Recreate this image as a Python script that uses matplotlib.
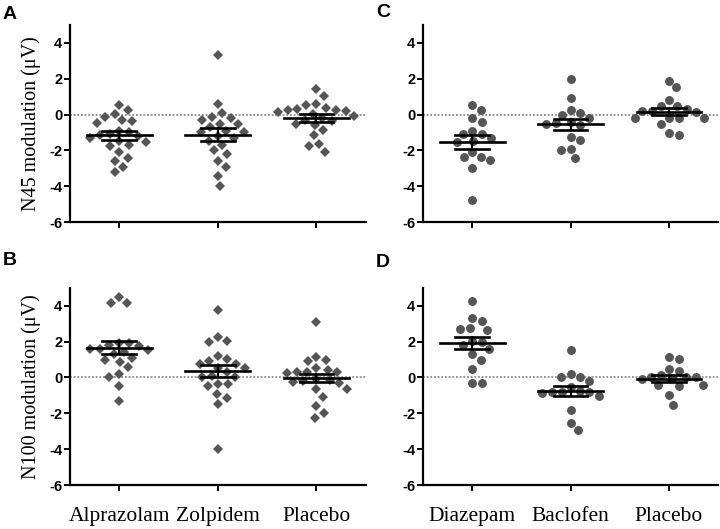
# N45 / N100 modulation column scatter (mean +/- SEM)

import numpy as np
import matplotlib
matplotlib.use('Agg')
import matplotlib.pyplot as plt

plt.rcParams['axes.unicode_minus'] = False

groups_ab = ['Alprazolam', 'Zolpidem', 'Placebo']
groups_cd = ['Diazepam', 'Baclofen', 'Placebo']

# Panel A: N45, GABA-A drugs
n45_alprazolam = [0.55, 0.05, 0.25, -0.3, -0.45, -0.15, -0.35, -0.9, -1.1, -1.15, -1.2,
                  -1.3, -1.5, -1.55, -1.7, -1.75, -2.1, -2.4, -2.6, -2.9, -3.2, -1.0]
n45_zolpidem = [3.33, 0.58, 0.06, -0.13, -0.19, -0.28, -0.5, -0.55, -0.7, -0.95, -0.92,
                -1.0, -1.2, -1.3, -1.5, -1.7, -2.0, -2.2, -2.6, -2.9, -3.45, -4.0]
n45_placebo_a = [1.4, 1.03, 0.58, 0.55, 0.24, 0.28, 0.22, 0.39, 0.15, 0.05, 0.3, -0.1,
                 -0.22, -0.3, -0.35, -0.5, -0.6, -0.88, -1.16, -1.66, -1.78, -2.09]

# Panel B: N100, GABA-A drugs
n100_alprazolam = [4.15, 4.15, 4.5, 1.9, 1.9, 1.6, 1.55, 1.6, 1.4, 1.3, 1.0, 1.1, 0.84,
                   0.56, 0.17, 0.05, -0.5, -1.3, 1.75, 1.8]
n100_zolpidem = [3.78, 2.28, 2.04, 1.98, 1.2, 1.05, 0.92, 0.73, 0.54, 0.75, 0.3, 0.1,
                 0.0, 0.05, -0.34, -0.39, -0.49, -0.9, -1.14, -1.46, -3.98, 0.55]
n100_placebo_a = [3.1, 1.16, 0.9, 0.95, 0.5, 0.4, 0.3, 0.28, 0.25, 0.3, -0.1, -0.3,
                  -0.2, -0.25, -0.15, -0.67, -0.67, -1.1, -1.6, -1.98, -2.25]

# Panel C: N45, diazepam / baclofen
n45_diazepam = [0.52, 0.28, -0.22, -0.41, -0.92, -1.07, -1.07, -1.3, -1.48, -1.53,
                -2.09, -2.37, -2.37, -2.56, -2.99, -4.77]
n45_baclofen = [1.96, 0.9, 0.24, 0.09, 0.0, -0.22, -0.41, -0.47, -0.5, -0.6, -1.25,
                -1.4, -1.9, -1.96, -2.41]
n45_placebo_c = [1.89, 1.51, 0.8, 0.47, 0.47, 0.19, 0.15, 0.19, 0.3, -0.22, -0.22,
                 -0.17, -0.22, -0.5, -1.16, -1.03]

# Panel D: N100, diazepam / baclofen
n100_diazepam = [4.28, 3.29, 3.12, 2.69, 2.75, 2.64, 2.04, 2.0, 1.8, 1.6, 1.29, 1.0,
                 0.49, -0.3, -0.3]
n100_baclofen = [1.53, 0.22, 0.04, 0.04, -0.2, -0.52, -0.77, -0.8, -0.8, -0.82, -0.85,
                 -1.05, -1.79, -2.54, -2.92]
n100_placebo_c = [1.16, 1.05, 0.49, 0.36, 0.04, -0.07, 0.0, -0.05, 0.0, 0.13, -0.45,
                  -0.4, -0.4, -1.0, -1.51]

# mean and SEM
means_a = [-1.16, -1.12, -0.19]
sems_a = [0.24, 0.37, 0.2]
means_b = [1.66, 0.36, -0.04]
sems_b = [0.37, 0.32, 0.23]
means_c = [-1.53, -0.54, 0.15]
sems_c = [0.37, 0.31, 0.19]
means_d = [1.94, -0.78, -0.06]
sems_d = [0.34, 0.28, 0.2]

PX_X = 98.5    # pixels per category
PX_Y = 17.83   # pixels per microvolt


def swarm_offsets(values, min_dist=10.0):
    """Simple beeswarm: place each point at the smallest free x offset."""
    ys = np.asarray(values) * PX_Y
    order = np.argsort(-ys)
    placed = []
    offsets = np.zeros(len(ys))
    for i in order:
        y = ys[i]
        blocked = []
        for xj, yj in placed:
            dy = abs(y - yj)
            if dy < min_dist:
                half = np.sqrt(min_dist ** 2 - dy ** 2)
                blocked.append((xj - half, xj + half))
        cands = [0.0] + [b for iv in blocked for b in iv]
        cands = sorted(cands, key=lambda c: (abs(c), -c))
        for c in cands:
            if all(not (lo + 1e-6 < c < hi - 1e-6) for lo, hi in blocked):
                offsets[i] = c
                break
        placed.append((offsets[i], y))
    return offsets / PX_X


def draw_panel(ax, data, means, sems, marker, ms, ylabel, xlabels):
    for k, vals in enumerate(data):
        xs = k + swarm_offsets(vals)
        ax.plot(xs, vals, linestyle='none', marker=marker, ms=ms,
                color='#555555', markeredgewidth=0, zorder=2)
        m, s = means[k], sems[k]
        ax.plot([k - 0.33, k + 0.33], [m, m], color='black', lw=1.9, zorder=3)
        ax.plot([k, k], [m - s, m + s], color='black', lw=1.6, zorder=3)
        ax.plot([k - 0.17, k + 0.17], [m + s, m + s], color='black', lw=1.9, zorder=3)
        ax.plot([k - 0.17, k + 0.17], [m - s, m - s], color='black', lw=1.9, zorder=3)

    ax.axhline(0, color='#777777', linestyle=(0, (1.2, 1.2)), lw=1.1, zorder=1)
    ax.set_xlim(-0.5, 2.5)
    ax.set_ylim(-6, 5)
    ax.set_yticks([-6, -4, -2, 0, 2, 4])
    ax.set_xticks([0, 1, 2])
    for side in ['top', 'right']:
        ax.spines[side].set_visible(False)
    for side in ['left', 'bottom']:
        ax.spines[side].set_linewidth(1.6)
    ax.tick_params(direction='out', length=4, width=1.4, pad=1.5)
    for lab in ax.get_yticklabels():
        lab.set_fontfamily('Liberation Sans')
        lab.set_fontweight('bold')
        lab.set_fontsize(10.5)
    if xlabels:
        ax.set_xticklabels(xlabels, fontfamily='Liberation Serif', fontsize=15.5)
        ax.tick_params(axis='x', pad=12)
    else:
        ax.set_xticklabels([])
    if ylabel:
        ax.set_ylabel(ylabel, fontfamily='Liberation Serif', fontsize=14.5, labelpad=6)


fig = plt.figure(figsize=(7.2, 5.29), dpi=100)
ax_a = fig.add_axes([0.097, 0.580, 0.411, 0.373])
ax_b = fig.add_axes([0.097, 0.083, 0.411, 0.373])
ax_c = fig.add_axes([0.5875, 0.580, 0.41, 0.373])
ax_d = fig.add_axes([0.5875, 0.083, 0.41, 0.373])

draw_panel(ax_a, [n45_alprazolam, n45_zolpidem, n45_placebo_a], means_a, sems_a,
           'D', 5.0, 'N45 modulation (\u03bcV)', None)
draw_panel(ax_b, [n100_alprazolam, n100_zolpidem, n100_placebo_a], means_b, sems_b,
           'D', 5.0, 'N100 modulation (\u03bcV)', groups_ab)
draw_panel(ax_c, [n45_diazepam, n45_baclofen, n45_placebo_c], means_c, sems_c,
           'o', 6.4, None, None)
draw_panel(ax_d, [n100_diazepam, n100_baclofen, n100_placebo_c], means_d, sems_d,
           'o', 6.4, None, groups_cd)

# panel letters
for letter, x, y in [('A', 3, 6), ('B', 3, 252), ('C', 376, 4), ('D', 376, 254)]:
    fig.text(x / 720, 1 - y / 529, letter, fontsize=14, fontweight='bold',
             fontfamily='Liberation Sans', va='top', ha='left')

fig.savefig('out.png', dpi=100)
